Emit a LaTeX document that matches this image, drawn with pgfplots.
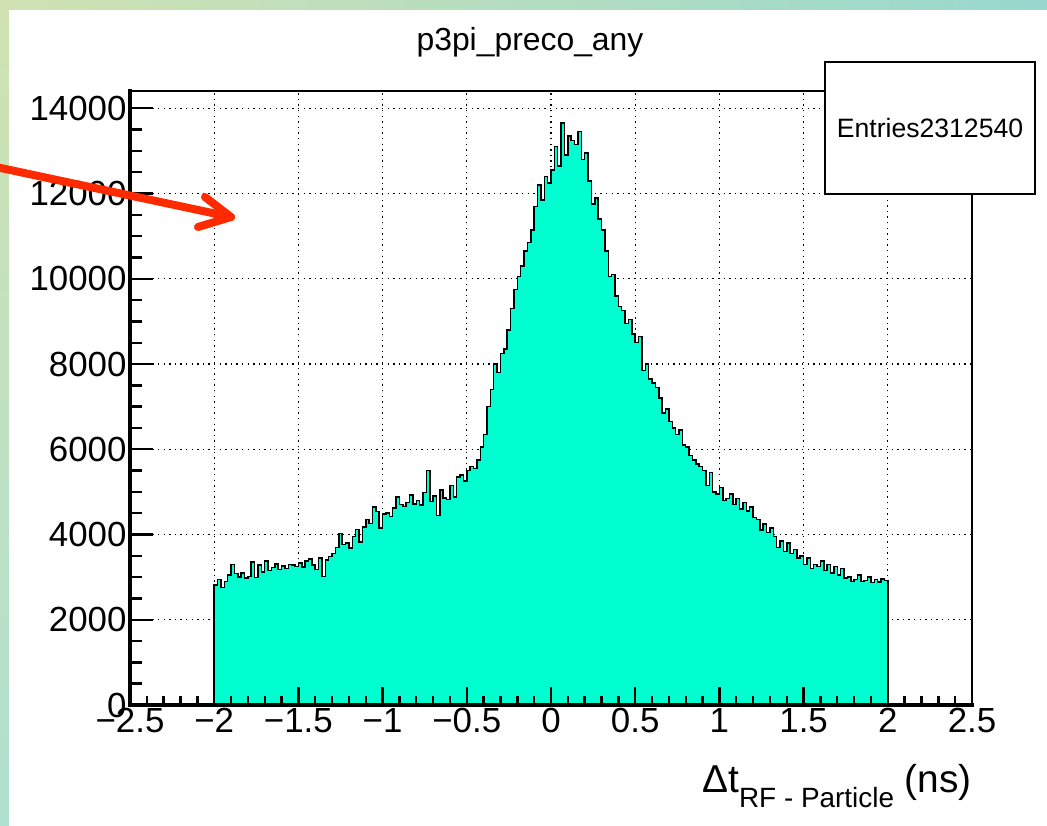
\documentclass[border=0pt]{standalone}
\usepackage{pgfplots}
\pgfplotsset{compat=1.18}
\usepackage{fontspec}
\setmainfont{Liberation Sans}
\definecolor{histfill}{RGB}{0,255,208}
\definecolor{arrowred}{RGB}{255,42,0}
\definecolor{bgA}{RGB}{208,226,178}
\definecolor{bgB}{RGB}{152,216,206}
\definecolor{bgC}{RGB}{176,224,208}
\tikzset{rootgrid/.style={black, line width=1.1bp, dash pattern=on 1.4bp off 4.2bp},
  roottick/.style={black, line width=2.4bp}}
\begin{document}
\begin{tikzpicture}
\begin{scope}[x=1bp,y=1bp]
\fill[left color=bgA, right color=bgB] (0,0) rectangle (1047,826);
\fill[top color=bgA, bottom color=bgC] (0,0) rectangle (9,826);
\fill[white] (9,0) rectangle (1047,816);
\end{scope}
\begin{axis}[
  at={(130bp,121bp)}, anchor=south west,
  scale only axis, width=842bp, height=614bp,
  xmin=-2.5, xmax=2.5, ymin=0, ymax=14406,
  scaled ticks=false,
  xtick={-2.5,-2,-1.5,-1,-0.5,0,0.5,1,1.5,2,2.5},
  xticklabels={−2.5,−2,−1.5,−1,−0.5,0,0.5,1,1.5,2,2.5},
  ytick={0,2000,4000,6000,8000,10000,12000,14000},
  yticklabels={0,2000,4000,6000,8000,10000,12000,14000},
  tick align=inside, tick pos=left,
  major tick length=0pt, minor tick length=0pt,
  ticklabel style={font=\fontsize{35}{40}\selectfont},
  axis line style={black, line width=1.2bp},
  clip=false,
]
\pgfplotsinvokeforeach{-2,-1.5,-1,-0.5,0,0.5,1,1.5,2}{
  \draw[rootgrid] (axis cs:#1,0) -- (axis cs:#1,14406);
}
\pgfplotsinvokeforeach{2000,4000,6000,8000,10000,12000,14000}{
  \draw[rootgrid] (axis cs:-2.5,#1) -- (axis cs:2.5,#1);
}
\addplot[const plot, fill=histfill, draw=black, line width=1.5bp] coordinates {
(-2.00,2820) (-1.98,2950) (-1.96,2760) (-1.94,2900) (-1.92,3050) (-1.90,3300) (-1.88,3080) (-1.86,3000) (-1.84,3100) (-1.82,2980)
(-1.80,3020) (-1.78,3350) (-1.76,2990) (-1.74,3280) (-1.72,3120) (-1.70,3380) (-1.68,3150) (-1.66,3230) (-1.64,3310) (-1.62,3180)
(-1.60,3260) (-1.58,3200) (-1.56,3300) (-1.54,3280) (-1.52,3250) (-1.50,3330) (-1.48,3240) (-1.46,3380) (-1.44,3420) (-1.42,3290)
(-1.40,3180) (-1.38,3450) (-1.36,3020) (-1.34,3400) (-1.32,3480) (-1.30,3550) (-1.28,3700) (-1.26,4020) (-1.24,3760) (-1.22,3800)
(-1.20,3680) (-1.18,3950) (-1.16,4120) (-1.14,3820) (-1.12,4180) (-1.10,4350) (-1.08,4260) (-1.06,4650) (-1.04,4540) (-1.02,4150)
(-1.00,4480) (-0.98,4500) (-0.96,4420) (-0.94,4620) (-0.92,4880) (-0.90,4700) (-0.88,4660) (-0.86,4750) (-0.84,4930) (-0.82,4720)
(-0.80,4800) (-0.78,4690) (-0.76,4980) (-0.74,5500) (-0.72,4780) (-0.70,4900) (-0.68,4450) (-0.66,5050) (-0.64,4860) (-0.62,4820)
(-0.60,5150) (-0.58,4880) (-0.56,5350) (-0.54,5400) (-0.52,5250) (-0.50,5500) (-0.48,5600) (-0.46,5550) (-0.44,5750) (-0.42,6050)
(-0.40,6350) (-0.38,7000) (-0.36,7400) (-0.34,8000) (-0.32,7800) (-0.30,8250) (-0.28,8350) (-0.26,8800) (-0.24,9300) (-0.22,9750)
(-0.20,10050) (-0.18,10300) (-0.16,10650) (-0.14,10850) (-0.12,11150) (-0.10,11700) (-0.08,12200) (-0.06,11850) (-0.04,12400) (-0.02,12250)
(0.00,12550) (0.02,13100) (0.04,12650) (0.06,13650) (0.08,12900) (0.10,13350) (0.12,13250) (0.14,13150) (0.16,13450) (0.18,12800)
(0.20,12950) (0.22,12300) (0.24,11750) (0.26,11900) (0.28,11400) (0.30,11150) (0.32,10650) (0.34,10050) (0.36,10100) (0.38,9600)
(0.40,9350) (0.42,9250) (0.44,8950) (0.46,9050) (0.48,8700) (0.50,8500) (0.52,8650) (0.54,7850) (0.56,8000) (0.58,7650)
(0.60,7550) (0.62,7450) (0.64,7200) (0.66,6850) (0.68,6950) (0.70,6650) (0.72,6500) (0.74,6350) (0.76,6450) (0.78,6100)
(0.80,6050) (0.82,5850) (0.84,5750) (0.86,5650) (0.88,5600) (0.90,5500) (0.92,5150) (0.94,5450) (0.96,5000) (0.98,4950)
(1.00,5100) (1.02,4800) (1.04,4850) (1.06,4950) (1.08,4700) (1.10,4850) (1.12,4600) (1.14,4750) (1.16,4550) (1.18,4650)
(1.20,4400) (1.22,4350) (1.24,4100) (1.26,4250) (1.28,4050) (1.30,4150) (1.32,3950) (1.34,3700) (1.36,3850) (1.38,3600)
(1.40,3800) (1.42,3550) (1.44,3650) (1.46,3450) (1.48,3500) (1.50,3300) (1.52,3450) (1.54,3200) (1.56,3300) (1.58,3250)
(1.60,3380) (1.62,3150) (1.64,3300) (1.66,3100) (1.68,3250) (1.70,3050) (1.72,3200) (1.74,2980) (1.76,3000) (1.78,2900)
(1.80,2950) (1.82,3050) (1.84,2900) (1.86,2920) (1.88,3000) (1.90,2870) (1.92,2950) (1.94,2880) (1.96,2960) (1.98,2920)
(2.00,2920)
} \closedcycle;
\pgfplotsinvokeforeach{-2.4,-2.3,-2.2,-2.1,-1.9,-1.8,-1.7,-1.6,-1.4,-1.3,-1.2,-1.1,-0.9,-0.8,-0.7,-0.6,-0.4,-0.3,-0.2,-0.1,0.1,0.2,0.3,0.4,0.6,0.7,0.8,0.9,1.1,1.2,1.3,1.4,1.6,1.7,1.8,1.9,2.1,2.2,2.3,2.4}{
  \draw[roottick] (axis cs:#1,0) -- ++(0bp,9bp);
}
\pgfplotsinvokeforeach{-2.5,-2,-1.5,-1,-0.5,0,0.5,1,1.5,2,2.5}{
  \draw[roottick] (axis cs:#1,0) -- ++(0bp,18bp);
}
\pgfplotsinvokeforeach{500,1000,1500,2500,3000,3500,4500,5000,5500,6500,7000,7500,8500,9000,9500,10500,11000,11500,12500,13000,13500}{
  \draw[roottick] (axis cs:-2.5,#1) -- ++(12bp,0bp);
}
\pgfplotsinvokeforeach{0,2000,4000,6000,8000,10000,12000,14000}{
  \draw[roottick] (axis cs:-2.5,#1) -- ++(23bp,0bp);
}
\end{axis}
\begin{scope}[x=1bp,y=1bp]
\draw[black, line width=1.2bp] (130,735) -- (972,735) -- (972,121);
\draw[black, line width=3.2bp, line cap=rect] (130,735) -- (130,121) -- (972,121);
\node[anchor=base, inner sep=0] at (530,775) {\fontsize{32}{38}\selectfont p3pi\_preco\_any};
\draw[black, line width=2bp, fill=white] (825,764) rectangle (1035,632);
\node[inner sep=0] at (930,698) {\fontsize{26.7}{30}\selectfont Entries2312540};
\node[anchor=base east, inner sep=0] at (972,34) {\fontsize{39}{42}\selectfont Δt\raisebox{-15bp}{\fontsize{28}{30}\selectfont RF - Particle} (ns)};
\draw[arrowred, line width=8bp, line cap=round, line join=round] (-4,659) -- (231,609);
\draw[arrowred, line width=8bp, line cap=round, line join=round] (205,629) -- (231,609) -- (198,599);
\end{scope}
\pgfresetboundingbox
\useasboundingbox (0bp,0bp) rectangle (1047bp,826bp);
\end{tikzpicture}
\end{document}
